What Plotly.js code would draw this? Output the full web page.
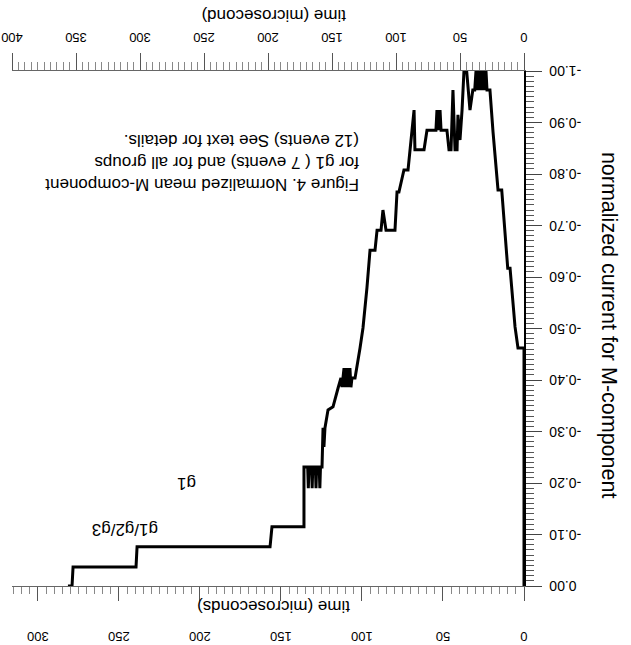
<!DOCTYPE html>
<html><head><meta charset="utf-8">
<script src="https://cdn.plot.ly/plotly-3.0.1.min.js"></script>
<style>
html,body{margin:0;padding:0;background:#fff;overflow:hidden}
#chart{width:631px;height:645px;transform:rotate(180deg);transform-origin:50% 50%;}
</style></head><body><div id="chart"></div>
<script>
// time in microseconds (bottom axis 0-400 scale)
const timeUs = [0,0,4.7,7.0,10.9,12.7,17.4,20.3,24.2,26.6,28.9,29.7,30.5,31.3,32.4,33.6,34.4,35.5,36.7,37.5,38.5,40.0,42.2,44.8,46.9,48.4,50.0,51.6,52.3,53.9,55.5,57.0,58.6,60.2,64.8,65.6,66.8,68.0,68.8,75.8,78.1,85.2,85.9,90.6,93.8,97.7,99.2,100.8,107.8,110.2,111.7,114.8,116.4,120.3,122.7,125.8,128.1,132.0,134.4,135.2,136.0,137.5,138.3,139.8,140.6,142.2,143.0,145.3,149.2,153.1,155.5,156.3,157.0,157.8,159.0,159.5,160.0,162.0,162.5,163.0,165.0,165.5,166.0,168.0,168.5,169.0,171.9,171.9,196.9,198.4,302.3,303.1,352.3,353.1,356.3];
// normalized mean M-component current, group g1
const currentG1 = [0,-0.462,-0.462,-0.503,-0.617,-0.617,-0.769,-0.769,-0.882,-0.963,-0.963,-1,-0.963,-1,-0.963,-1,-0.963,-1,-0.963,-1,-0.963,-0.963,-0.924,-1,-1,-0.924,-0.866,-0.915,-0.847,-0.847,-0.963,-0.847,-0.847,-0.885,-0.885,-0.924,-0.885,-0.924,-0.885,-0.885,-0.847,-0.847,-0.924,-0.808,-0.808,-0.765,-0.765,-0.691,-0.691,-0.730,-0.691,-0.691,-0.652,-0.652,-0.579,-0.501,-0.462,-0.404,-0.404,-0.386,-0.423,-0.386,-0.423,-0.386,-0.423,-0.386,-0.404,-0.384,-0.348,-0.342,-0.307,-0.270,-0.307,-0.231,-0.231,-0.190,-0.231,-0.231,-0.190,-0.231,-0.231,-0.190,-0.231,-0.231,-0.190,-0.231,-0.231,-0.115,-0.115,-0.076,-0.076,-0.037,-0.037,0,0];

const yTickVals = [-1,-0.9,-0.8,-0.7,-0.6,-0.5,-0.4,-0.3,-0.2,-0.1,0];
const yTickText = ["-1.00","-0.90","-0.80","-0.70","-0.60","-0.50","-0.40","-0.30","-0.20","-0.10","0.00"];
const xTickVals = [0,50,100,150,200,250,300,350,400];
const x2TickVals = [0,50,100,150,200,250,300];

const yTitle = "normalized current for M-component";
const xTitle = "time (microsecond)";
const x2Title = "time (microseconds)";
const captionLines = ["Figure 4. Normalized mean M-component","for g1 ( 7 events) and for all groups","(12 events) See text for details."];
const seriesLabels = ["g1","g1/g2/g3"];

const FONT = "Liberation Sans, Arial, Helvetica, sans-serif";

const traces = [
  {
    x: timeUs, y: currentG1, type: 'scatter', mode: 'lines', name: seriesLabels[0],
    line: {color: '#000', width: 3, simplify: false}, xaxis: 'x', yaxis: 'y', showlegend: false
  },
  {
    // empty trace so the second time axis (0-300 scale) is drawn
    x: x2TickVals, y: x2TickVals.map(() => null), type: 'scatter', mode: 'markers',
    xaxis: 'x2', yaxis: 'y', showlegend: false, hoverinfo: 'skip', marker: {opacity: 0}
  }
];

const layout = {
  width: 631, height: 645,
  margin: {l: 107, r: 12, t: 59, b: 71, pad: 0},
  paper_bgcolor: '#fff', plot_bgcolor: '#fff',
  font: {family: FONT, color: '#000'},
  showlegend: false,
  xaxis: {
    range: [0, 400], tickvals: xTickVals, ticks: 'outside', ticklen: 17, tickcolor: '#555', tickwidth: 1,
    showline: true, linecolor: '#666', linewidth: 1, showgrid: false, zeroline: false,
    tickfont: {size: 13, family: FONT}, ticklabelstandoff: 4,
    minor: {dtick: 5, ticks: 'outside', ticklen: 8, tickcolor: '#888', showgrid: false}
  },
  xaxis2: {
    range: [0, 316], tickvals: x2TickVals, overlaying: 'x', side: 'top', anchor: 'y',
    ticks: 'outside', ticklen: 14, tickcolor: '#555', tickwidth: 1,
    showline: true, linecolor: '#666', linewidth: 1, showgrid: false, zeroline: false,
    tickfont: {size: 13, family: FONT}, ticklabelstandoff: 26,
    minor: {dtick: 5, ticks: 'outside', ticklen: 7, tickcolor: '#888', showgrid: false}
  },
  yaxis: {
    range: [-1, 0], tickvals: yTickVals, ticktext: yTickText, ticks: 'outside', ticklen: 16,
    tickcolor: '#444', tickwidth: 1, showline: true, linecolor: '#000', linewidth: 1.5,
    showgrid: false, zeroline: false, tickfont: {size: 14, family: FONT}, ticklabelstandoff: 5,
    minor: {dtick: 0.01, ticks: 'outside', ticklen: 8, tickcolor: '#555', showgrid: false}
  },
  annotations: [
    {text: xTitle, xref: 'paper', yref: 'paper', x: 0.49, y: -0.107, xanchor: 'center', yanchor: 'middle', showarrow: false, font: {size: 17, family: FONT}},
    {text: x2Title, xref: 'paper', yref: 'paper', x: 0.49, y: 1.039, xanchor: 'center', yanchor: 'middle', showarrow: false, font: {size: 17, family: FONT}},
    {text: yTitle, xref: 'paper', yref: 'paper', x: -0.166, y: 0.493, xanchor: 'center', yanchor: 'middle', textangle: -90, showarrow: false, font: {size: 21.5, family: FONT}},
    {text: captionLines.join('<br>'), xref: 'paper', yref: 'paper', x: 0.318, y: 0.177, xanchor: 'left', yanchor: 'middle', align: 'left', showarrow: false, font: {size: 17, family: FONT}},
    {text: seriesLabels[0], xref: 'paper', yref: 'paper', x: (444-107)/512, y: (574-162)/515, xanchor: 'center', yanchor: 'middle', showarrow: false, font: {size: 17, family: FONT}},
    {text: seriesLabels[1], xref: 'paper', yref: 'paper', x: (506-107)/512, y: (574-115)/515, xanchor: 'center', yanchor: 'middle', showarrow: false, font: {size: 17, family: FONT}}
  ]
};

Plotly.newPlot('chart', traces, layout, {displayModeBar: false, staticPlot: true});
</script></body></html>
